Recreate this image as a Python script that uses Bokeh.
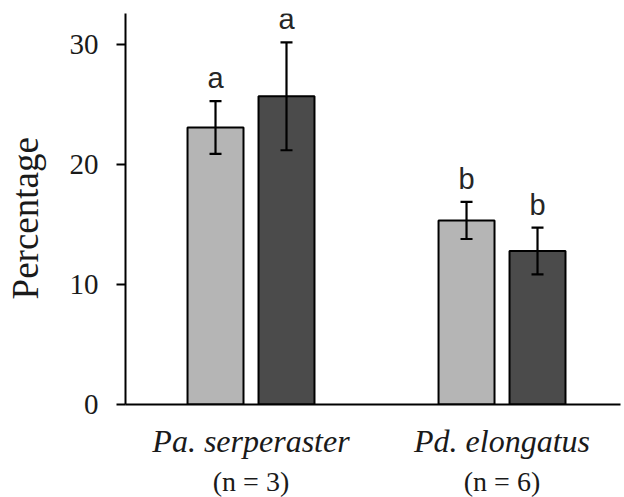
from bokeh.plotting import figure
from bokeh.models import (ColumnDataSource, Range1d, FixedTicker, LinearAxis,
                          Whisker, TeeHead)
from bokeh.transform import dodge
from bokeh.core.properties import value
from bokeh.embed import file_html
from bokeh.resources import INLINE

# ---- data ----
species = ["Pa. serperaster", "Pd. elongatus"]
n_labels = ["(n = 3)", "(n = 6)"]
light_means = [23.1, 15.35]
light_err = [2.2, 1.55]
light_letters = ["a", "b"]
dark_means = [25.7, 12.8]
dark_err = [4.5, 1.95]
dark_letters = ["a", "b"]
y_ticks = [0, 10, 20, 30]

LIGHT = "#b5b5b5"
DARK = "#4b4b4b"
OFF = 0.1414
BW = 0.223

xs = list(range(len(species)))


def make_src(means, errs, letters):
    return ColumnDataSource(dict(
        x=xs, mean=means,
        upper=[m + e for m, e in zip(means, errs)],
        lower=[m - e for m, e in zip(means, errs)],
        letter=letters,
    ))


src_l = make_src(light_means, light_err, light_letters)
src_d = make_src(dark_means, dark_err, dark_letters)

p = figure(frame_width=495, frame_height=391,
           x_range=Range1d(-0.5, 1.472), y_range=Range1d(0, 32.6),
           output_backend="svg", toolbar_location=None,
           min_border_left=125, min_border_right=4, min_border_top=13,
           min_border_bottom=0)
p.outline_line_color = None
p.xgrid.visible = False
p.ygrid.visible = False
p.background_fill_color = "white"
p.border_fill_color = "white"

for src, off, col in ((src_l, -OFF, LIGHT), (src_d, OFF, DARK)):
    xd = dodge("x", off, range=p.x_range)
    p.vbar(x=xd, top="mean", bottom=0, width=BW, source=src,
           fill_color=col, line_color="black", line_width=2)
    w = Whisker(source=src, base=xd, upper="upper", lower="lower",
                line_color="black", line_width=2.2, level="overlay",
                upper_head=TeeHead(size=12, line_width=2.2, line_color="black"),
                lower_head=TeeHead(size=12, line_width=2.2, line_color="black"))
    p.add_layout(w)
    p.text(x=xd, y="upper", text="letter", source=src,
           text_font=value("Liberation Sans"), text_font_size="29px",
           text_color="#262626", text_align="center",
           text_baseline="bottom", y_offset=-7)

# y axis
ya = p.yaxis[0]
ya.ticker = FixedTicker(ticks=y_ticks)
ya.minor_tick_line_color = None
ya.major_tick_in = 0
ya.major_tick_out = 9
ya.major_tick_line_width = 2
ya.axis_line_width = 2
ya.major_label_text_font = "Liberation Serif"
ya.major_label_text_font_size = "29px"
ya.major_label_text_color = "#1a1a1a"
ya.major_label_standoff = 18
ya.axis_label = "Percentage\u00a0\u00a0"
ya.axis_label_text_font = "Liberation Serif"
ya.axis_label_text_font_size = "37px"
ya.axis_label_text_font_style = "normal"
ya.axis_label_text_color = "#1a1a1a"
ya.axis_label_standoff = 21

# x axis: species names (italic)
xa = p.xaxis[0]
xa.ticker = FixedTicker(ticks=xs)
xa.major_label_overrides = {i: s for i, s in enumerate(species)}
xa.minor_tick_line_color = None
xa.major_tick_line_color = None
xa.major_tick_in = 0
xa.major_tick_out = 0
xa.axis_line_width = 2
xa.major_label_text_font = "Liberation Serif"
xa.major_label_text_font_size = "32px"
xa.major_label_text_font_style = "italic"
xa.major_label_text_color = "#1a1a1a"
xa.major_label_standoff = 18

# second x axis: sample sizes
xa2 = LinearAxis(ticker=FixedTicker(ticks=xs),
                 major_label_overrides={i: s for i, s in enumerate(n_labels)})
xa2.axis_line_color = None
xa2.major_tick_line_color = None
xa2.minor_tick_line_color = None
xa2.major_tick_in = 0
xa2.major_tick_out = 0
xa2.major_label_text_font = "Liberation Serif"
xa2.major_label_text_font_size = "28px"
xa2.major_label_text_color = "#1a1a1a"
xa2.major_label_standoff = 4
p.add_layout(xa2, "below")

open("out.html", "w").write(file_html(p, INLINE))
